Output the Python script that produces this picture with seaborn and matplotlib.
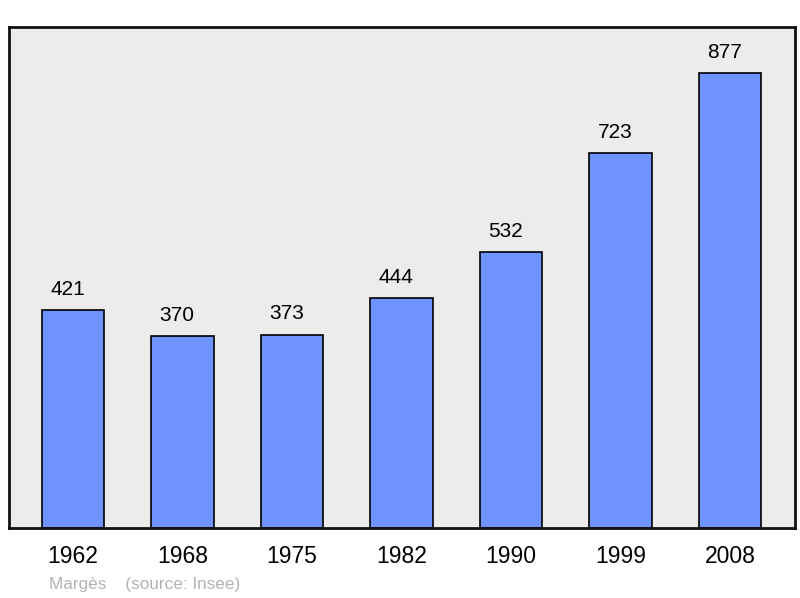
import matplotlib
matplotlib.use("Agg")
import pandas as pd
import seaborn as sns
from matplotlib import pyplot as plt

years = ["1962", "1968", "1975", "1982", "1990", "1999", "2008"]
population = [421, 370, 373, 444, 532, 723, 877]

sns.set_style("white")
plt.rcParams["font.family"] = ["Liberation Sans", "DejaVu Sans"]

df = pd.DataFrame({"year": years, "pop": population})

fig = plt.figure(figsize=(8, 5.98), dpi=100)
ax = fig.add_axes([9 / 800, 70 / 598, 786 / 800, 501 / 598])
ax.set_facecolor("#ececec")

sns.barplot(data=df, x="year", y="pop", color="#7094ff", saturation=1,
            width=0.57, edgecolor="black", linewidth=1.2, ax=ax)

# valeurs au-dessus des barres (un peu décalées à gauche comme l'original)
for i, v in enumerate(population):
    ax.annotate(str(v), (i, v), xytext=(-4, 8), textcoords="offset points",
                ha="center", va="bottom", fontsize=15, color="black")

ax.set_xlim(-0.584, 6.594)
ax.set_ylim(0, 966)
ax.set_xlabel("")
ax.set_ylabel("")
ax.set_yticks([])
ax.tick_params(axis="x", length=0, pad=12, labelsize=16.5, labelcolor="black")
for lab in ax.get_xticklabels():
    lab.set_x(lab.get_position()[0])
for s in ax.spines.values():
    s.set_color("#111111")
    s.set_linewidth(2)

fig.text(49 / 800, 1 - 584 / 598, "Margès    (source: Insee)", color="#b3b3b3",
         fontsize=12.3, va="center", ha="left")

fig.savefig("out.png", dpi=100)
